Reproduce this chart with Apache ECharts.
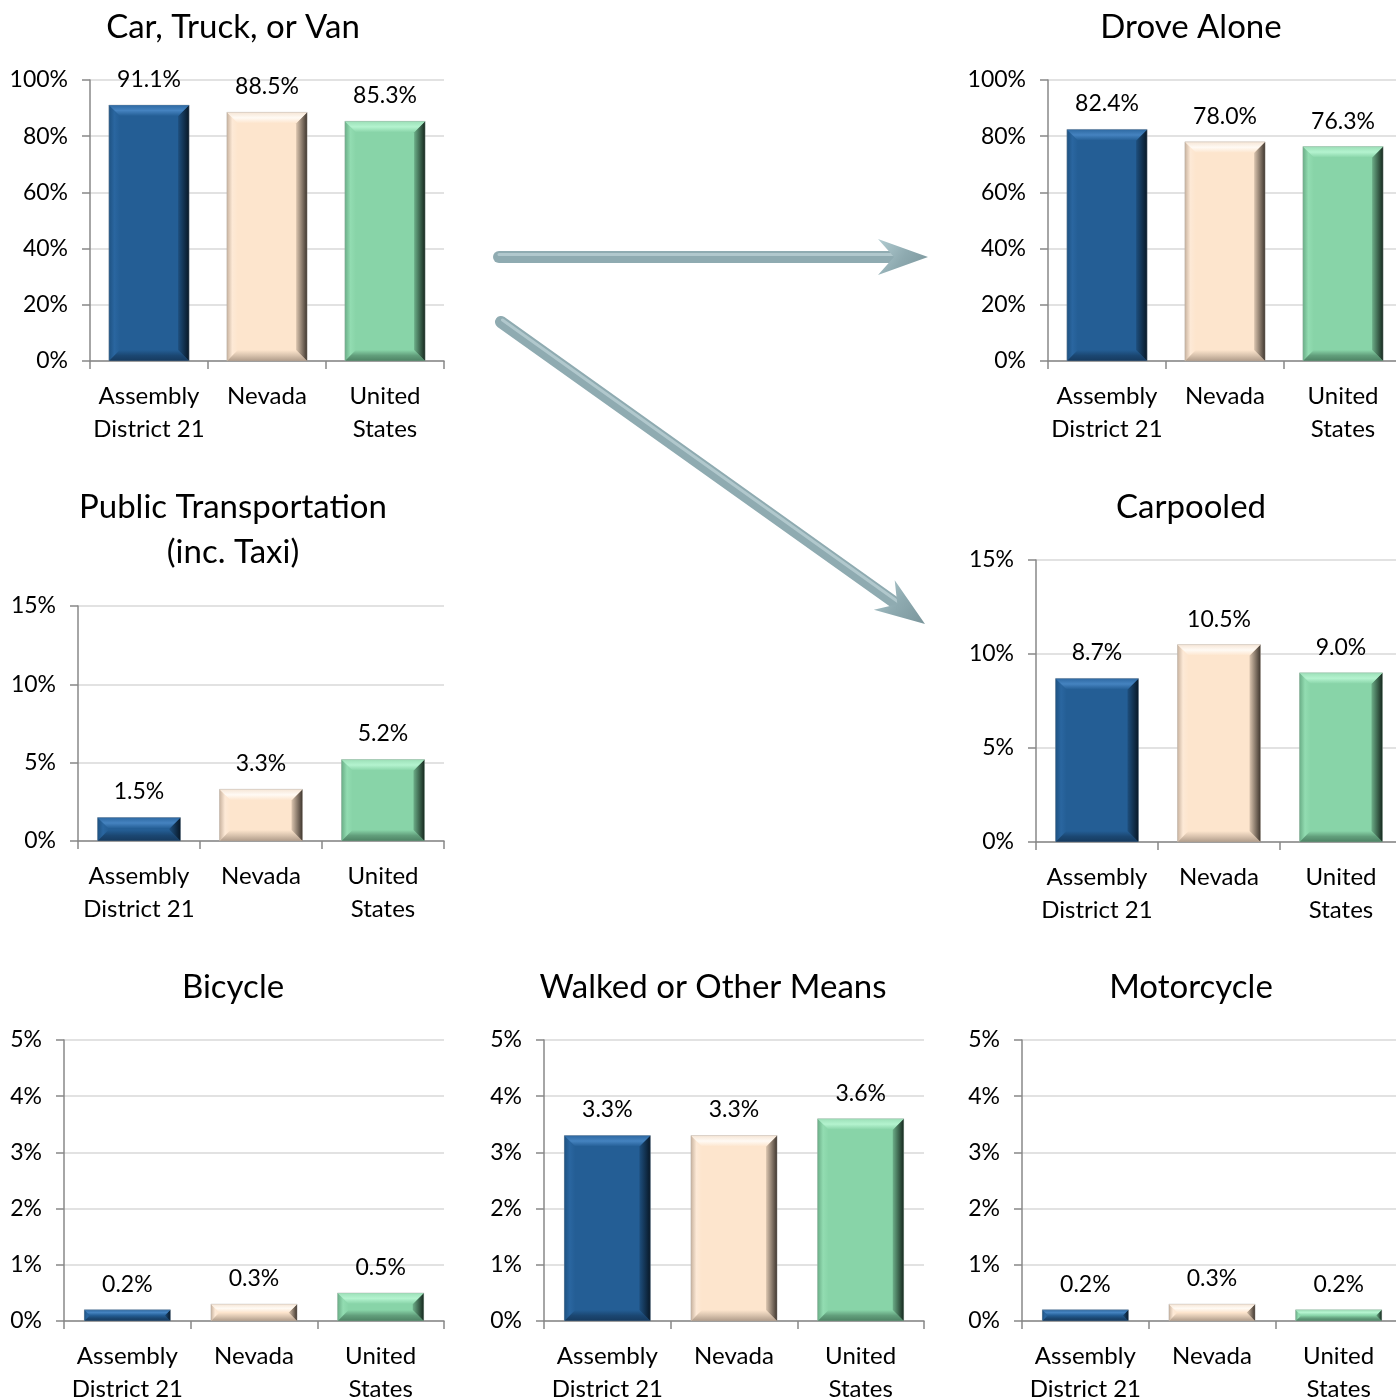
<!DOCTYPE html>
<html><head><meta charset="utf-8">
<script src="https://cdn.jsdelivr.net/npm/echarts@6/dist/echarts.min.js"></script>
<style>html,body{margin:0;padding:0;background:#fff}#c{width:1396px;height:1399px}</style>
</head><body><div id="c"></div>
<script>
const categories = ['Assembly\nDistrict 21', 'Nevada', 'United\nStates'];
const carTruckVan = [91.1, 88.5, 85.3];
const droveAlone = [82.4, 78.0, 76.3];
const publicTransport = [1.5, 3.3, 5.2];
const carpooled = [8.7, 10.5, 9.0];
const bicycle = [0.2, 0.3, 0.5];
const walkedOther = [3.3, 3.3, 3.6];
const motorcycle = [0.2, 0.3, 0.2];
const panelTitles = ['Car, Truck, or Van', 'Drove Alone', 'Public Transportation\n(inc. Taxi)', 'Carpooled', 'Bicycle', 'Walked or Other Means', 'Motorcycle'];
const yMax = [100, 100, 15, 15, 5, 5, 5];
const yStep = [20, 20, 5, 5, 1, 1, 1];

const FONT = 'Lato';
const panels = [
  {data: carTruckVan, grid: {left: 90, top: 80, width: 354, height: 281}, title: {x: 228, y: 0}},
  {data: droveAlone, grid: {left: 1048, top: 80, width: 354, height: 281}, title: {x: 1186, y: 0}},
  {data: publicTransport, grid: {left: 78, top: 606, width: 366, height: 235}, title: {x: 228, y: 480}},
  {data: carpooled, grid: {left: 1036, top: 560, width: 366, height: 282}, title: {x: 1186, y: 480}},
  {data: bicycle, grid: {left: 64, top: 1040, width: 380, height: 281}, title: {x: 228, y: 960}},
  {data: walkedOther, grid: {left: 544, top: 1040, width: 380, height: 281}, title: {x: 708, y: 960}},
  {data: motorcycle, grid: {left: 1022, top: 1040, width: 380, height: 281}, title: {x: 1186, y: 960}}
];

const looks = [
  {main: '#245e95', topEdge: '#2e69a2', top: '#4583c0', leftEdge: '#1e5282', left: '#2a66a0',
   bottom: '#1b4772', bottomEdge: '#163a5e', right1: '#1e4f7e', right2: '#081827'},
  {main: '#fde5cd', topEdge: '#f6e6d6', top: '#fffaf4', leftEdge: '#c9b39f', left: '#fde9d6',
   bottom: '#d8c2ad', bottomEdge: '#b09c8a', right1: '#dcc6b0', right2: '#3f362e'},
  {main: '#88d4a8', topEdge: '#9ce0b8', top: '#b4f3cf', leftEdge: '#6aae87', left: '#92dcb1',
   bottom: '#629f7c', bottomEdge: '#4d8264', right1: '#6cae88', right2: '#16281e'}
];

function renderBar(params, api) {
  const idx = api.value(0), v = api.value(1);
  const topPt = api.coord([idx, v]);
  const basePt = api.coord([idx, 0]);
  const w = api.size([1, 0])[0] * 0.68;
  const x0 = topPt[0] - w / 2, x1 = topPt[0] + w / 2, y0 = topPt[1], y1 = basePt[1];
  const h = y1 - y0;
  const b = Math.min(11, h / 2);
  const c = looks[idx];
  const G = (x, y, x2, y2, stops) => new echarts.graphic.LinearGradient(x, y, x2, y2,
    stops.map((s, k) => ({offset: k / (stops.length - 1), color: s})));
  return {
    type: 'group',
    children: [
      {type: 'rect', shape: {x: x0, y: y0, width: w, height: h}, style: {fill: c.main}},
      {type: 'polygon', shape: {points: [[x0, y0], [x0 + b, y0 + b], [x0 + b, y1 - b], [x0, y1]]},
        style: {fill: G(0, 0, 1, 0, [c.leftEdge, c.left, c.main])}},
      {type: 'polygon', shape: {points: [[x0, y1], [x1, y1], [x1 - b, y1 - b], [x0 + b, y1 - b]]},
        style: {fill: G(0, 0, 0, 1, [c.main, c.bottom, c.bottomEdge])}},
      {type: 'polygon', shape: {points: [[x1, y0], [x1 - b, y0 + b], [x1 - b, y1 - b], [x1, y1]]},
        style: {fill: G(0, 0, 1, 0, [c.right1, c.right2])}},
      {type: 'polygon', shape: {points: [[x0, y0], [x1, y0], [x1 - b, y0 + b], [x0 + b, y0 + b]]},
        style: {fill: G(0, 0, 0, 1, [c.topEdge, c.top, c.main])}},
      {type: 'rect', shape: {x: x0, y: y0, width: w, height: h},
        style: {fill: 'none', stroke: 'rgba(160,160,160,0.35)', lineWidth: 1}},
      {type: 'text', x: topPt[0], y: y0 - 14,
        style: {text: v.toFixed(1) + '%', align: 'center', verticalAlign: 'bottom', fontFamily: FONT, fontSize: 23, fill: '#000'}}
    ]
  };
}

const option = {
  animation: false,
  backgroundColor: '#fff',
  title: panels.map((p, i) => ({
    text: panelTitles[i], left: p.title.x, top: p.title.y, textAlign: 'center',
    textStyle: {fontFamily: FONT, fontSize: 33, fontWeight: 'normal', color: '#000', lineHeight: 45}
  })),
  grid: panels.map(p => Object.assign({outerBoundsMode: 'none', containLabel: false}, p.grid)),
  xAxis: panels.map((p, i) => ({
    type: 'category', gridIndex: i, data: categories,
    axisLine: {lineStyle: {color: '#888', width: 1.5}},
    axisTick: {show: true, length: 8, lineStyle: {color: '#888', width: 1.5}},
    axisLabel: {interval: 0, margin: 19, fontFamily: FONT, fontSize: 24, color: '#000', lineHeight: 33}
  })),
  yAxis: panels.map((p, i) => ({
    type: 'value', gridIndex: i, min: 0, max: yMax[i], interval: yStep[i],
    axisLine: {show: true, lineStyle: {color: '#888', width: 1.5}},
    axisTick: {show: true, length: 8, lineStyle: {color: '#888', width: 1.5}},
    splitLine: {lineStyle: {color: '#d9d9d9', width: 1.5}},
    axisLabel: {formatter: '{value}%', margin: 22, fontFamily: FONT, fontSize: 23, color: '#000'}
  })),
  series: panels.map((p, i) => ({
    type: 'custom', xAxisIndex: i, yAxisIndex: i,
    renderItem: renderBar,
    encode: {x: 0, y: 1},
    data: p.data.map((v, k) => [k, v])
  })),
  graphic: []
};

function arrow(x1, y1, x2, y2) {
  const dx = x2 - x1, dy = y2 - y1, L = Math.hypot(dx, dy);
  const ux = dx / L, uy = dy / L, nx = -uy, ny = ux;
  const hl = 50, hw = 18, notch = 34;
  const bx = x2 - hl * ux, by = y2 - hl * uy;
  const sx = x2 - notch * ux, sy = y2 - notch * uy;
  const grad = new echarts.graphic.LinearGradient(0, 0, 1, 1, [
    {offset: 0, color: '#b3cdd2'}, {offset: 0.5, color: '#8eaab0'}, {offset: 1, color: '#7a959b'}
  ]);
  return [
    {type: 'line', shape: {x1: x1, y1: y1, x2: sx, y2: sy},
      style: {stroke: '#8fabb1', lineWidth: 12, lineCap: 'round'}, z: 10},
    {type: 'line', shape: {x1: x1 + nx * -2.5, y1: y1 + ny * -2.5, x2: sx + nx * -2.5, y2: sy + ny * -2.5},
      style: {stroke: 'rgba(200,220,224,0.6)', lineWidth: 3, lineCap: 'round'}, z: 10},
    {type: 'polygon', shape: {points: [[x2, y2], [bx + hw * nx, by + hw * ny], [sx, sy], [bx - hw * nx, by - hw * ny]]},
      style: {fill: grad}, z: 11}
  ];
}
option.graphic = [].concat(arrow(499, 257, 928, 257), arrow(501, 322, 925, 624));

const chart = echarts.init(document.getElementById('c'));
chart.setOption(option);
</script>
</body></html>
